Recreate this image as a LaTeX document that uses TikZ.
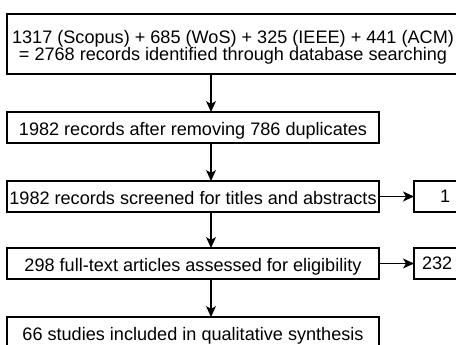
\documentclass[tikz,border=0pt]{standalone}
\usepackage{fontspec}
\setmainfont{Liberation Sans}
\usetikzlibrary{arrows.meta}
\begin{document}
\begin{tikzpicture}[x=1pt,y=-1pt,
  every node/.style={inner sep=0pt, outer sep=0pt},
  txt/.style={font=\fontsize{18.1}{17}\selectfont},
  flowbox/.style={draw=black, line width=1.3pt, rectangle, anchor=north west,
    minimum width=372pt, minimum height=31pt, txt, align=center,
    text height=16.5pt, text depth=0pt},
  sidebox/.style={draw=black, line width=1.3pt, rectangle, anchor=north west,
    minimum width=80pt, minimum height=31pt},
  flow/.style={line width=1.3pt, -{Stealth[length=11pt,width=10pt,inset=3pt]}}
]
\useasboundingbox (0,0) rectangle (456,345);
\clip (0,0) rectangle (456,345);

% main column
\node[flowbox, minimum width=452pt, minimum height=60pt, text height=33.5pt] (ident) at (7,14)
  {1317 (Scopus) + 685 (WoS) + 325 (IEEE) + 441 (ACM)\\= 2768 records identified through database searching};
\node[flowbox] (dedup)  at (7,112) {1982 records after removing 786 duplicates};
\node[flowbox] (screen) at (7,181) {1982 records screened for titles and abstracts};
\node[flowbox] (elig)   at (7,248) {298 full-text articles assessed for eligibility};
\node[flowbox] (incl)   at (7,317) {66 studies included in qualitative synthesis};

% exclusion boxes on the right
\node[sidebox] (exscreen) at (414,181) {};
\node[sidebox] (exelig)   at (414,248) {};
\node[txt, anchor=west] (exscreentxt) at (440,196.5) {1};
\node[txt, anchor=west] (exeligtxt)   at (422,263.5) {232};

% connectors
\coordinate (a1) at (211,74);
\draw[flow] (ident.south -| a1) -- (dedup.north -| a1);
\draw[flow] (dedup.south -| a1) -- (screen.north -| a1);
\draw[flow] (screen.south -| a1) -- (elig.north -| a1);
\draw[flow] (elig.south -| a1) -- (incl.north -| a1);
\draw[flow] (screen.east) -- (exscreen.west);
\draw[flow] (elig.east) -- (exelig.west);
\end{tikzpicture}
\end{document}
